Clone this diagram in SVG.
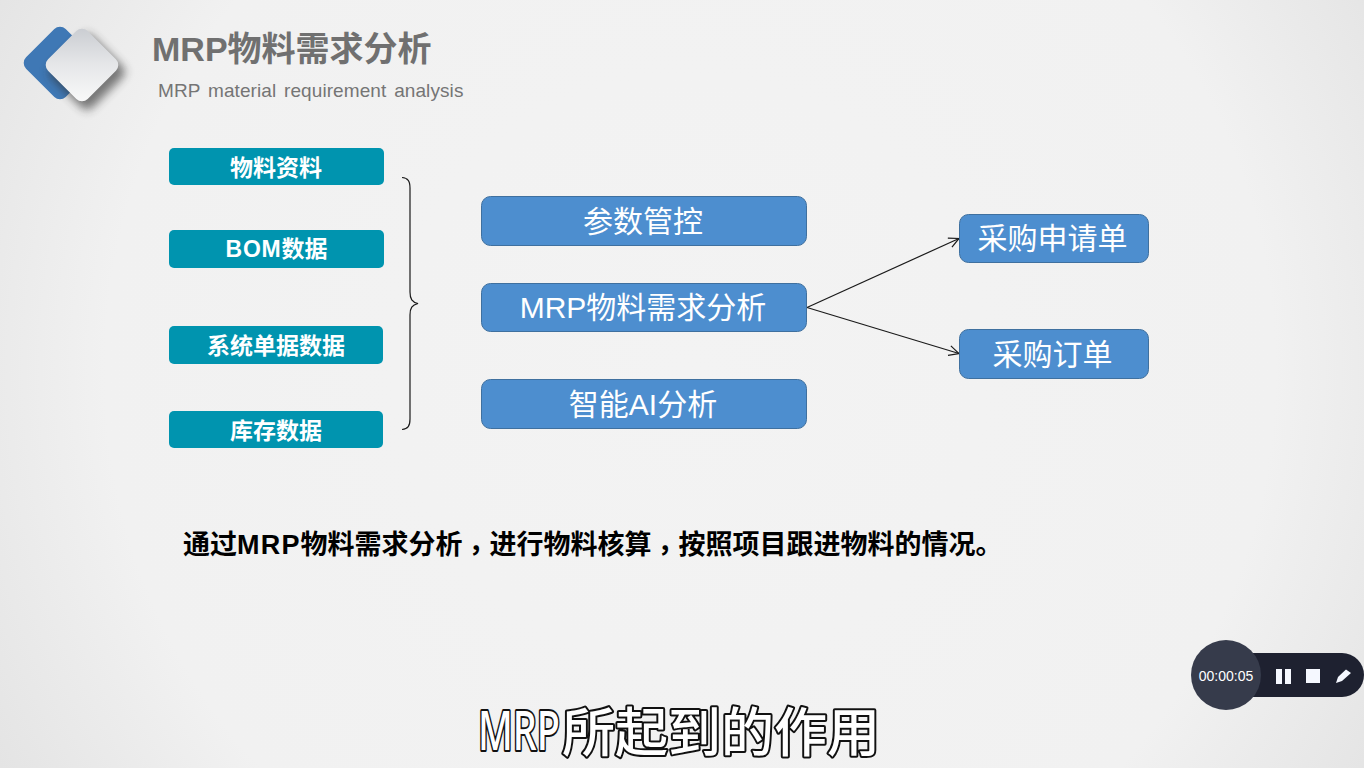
<svg xmlns="http://www.w3.org/2000/svg" width="1364" height="768" viewBox="0 0 1364 768">
<defs>
<radialGradient id="bg" gradientUnits="userSpaceOnUse" cx="690" cy="370" r="860">
<stop offset="0" stop-color="#f3f3f3"/><stop offset="0.68" stop-color="#f1f1f1"/><stop offset="1" stop-color="#e0e0e0"/>
</radialGradient>
<linearGradient id="silver" x1="0" y1="0" x2="1" y2="1">
<stop offset="0" stop-color="#c8cbd0"/><stop offset="0.5" stop-color="#e6e7e9"/><stop offset="1" stop-color="#fafafa"/>
</linearGradient>
<filter id="blur" x="-40%" y="-40%" width="180%" height="180%"><feGaussianBlur stdDeviation="5"/></filter>
<marker id="arrow" viewBox="0 0 12 12" refX="11" refY="6" markerWidth="12" markerHeight="12" markerUnits="userSpaceOnUse" orient="auto">
<path d="M1 1L11 6L1 11" fill="none" stroke="#1a1a1a" stroke-width="1.200"/>
</marker>
<style>
.teal{fill:#0094af}
.blue{fill:#4d8ecf;stroke:#3f709f;stroke-width:1}
.tt{fill:#fff;font-family:"Liberation Sans","Noto Sans CJK SC",sans-serif;font-weight:700;font-size:23px;text-anchor:middle}
.bt{fill:#fff;font-family:"Liberation Sans","Noto Sans CJK SC",sans-serif;font-size:30px;text-anchor:middle}
.cap{fill:#fff;stroke:#111;stroke-width:4;paint-order:stroke;stroke-linejoin:round;font-weight:500}
.conn{fill:none;stroke:#1a1a1a;stroke-width:1.200}
.comma{font-family:"Noto Sans CJK TC",sans-serif}
</style>
</defs>
<rect width="1364" height="768" fill="url(#bg)"/>
<g id="logo">
<rect x="32" y="35" width="56" height="56" rx="8" fill="#3f78b5" transform="rotate(45 60 63)"/>
<rect x="58" y="43" width="58" height="58" rx="8" fill="#2d2d2d" opacity="0.62" filter="url(#blur)" transform="rotate(45 87 72)"/>
<rect x="54" y="37" width="56" height="56" rx="8" fill="url(#silver)" transform="rotate(45 82 65)"/>
</g>
<g id="title">
<text x="152" y="60.500" font-family="'Liberation Sans','Noto Sans CJK SC',sans-serif" font-weight="700" font-size="34" fill="#707070">MRP物料需求分析</text>
<text x="158" y="97" font-family="'Liberation Sans',sans-serif" font-size="19" letter-spacing="0.080" word-spacing="2.500" fill="#757575">MRP material requirement analysis</text>
</g>
<g id="connectors">
<path class="conn" d="M402 177.500C408 178 410 181 410 188V292C410 299 412 302 418 303.500C412 305 410 308 410 315V419C410 426 408 429 402 429.500"/>
<line class="conn" x1="807" y1="307.500" x2="959" y2="238.500" marker-end="url(#arrow)"/>
<line class="conn" x1="807" y1="307.500" x2="959" y2="353.500" marker-end="url(#arrow)"/>
</g>
<g id="n1"><rect class="teal" x="169" y="148" width="215" height="37" rx="5"/><text class="tt" x="276" y="175.500">物料资料</text></g>
<g id="n2"><rect class="teal" x="169" y="230" width="215" height="38" rx="5"/><text class="tt" x="276.500" y="257"><tspan letter-spacing="0.700">BOM</tspan>数据</text></g>
<g id="n3"><rect class="teal" x="169" y="326" width="214" height="38" rx="5"/><text class="tt" x="276" y="353.500">系统单据数据</text></g>
<g id="n4"><rect class="teal" x="169" y="411" width="214" height="37" rx="5"/><text class="tt" x="276" y="438.500">库存数据</text></g>
<g id="b1"><rect class="blue" x="481.500" y="196.500" width="325" height="49" rx="9"/><text class="bt" x="643" y="232">参数管控</text></g>
<g id="b2"><rect class="blue" x="481.500" y="283.500" width="325" height="48" rx="9"/><text class="bt" x="643" y="318">MRP物料需求分析</text></g>
<g id="b3"><rect class="blue" x="481.500" y="379.500" width="325" height="49" rx="9"/><text class="bt" x="643" y="415">智能AI分析</text></g>
<g id="b4"><rect class="blue" x="959.500" y="214.500" width="189" height="48" rx="9"/><text class="bt" x="1052.500" y="249">采购申请单</text></g>
<g id="b5"><rect class="blue" x="959.500" y="329.500" width="189" height="49" rx="9"/><text class="bt" x="1052.500" y="365">采购订单</text></g>
<g id="summary"><text x="183" y="553.500" font-family="'Liberation Sans','Noto Sans CJK SC',sans-serif" font-weight="700" font-size="27" fill="#000">通过<tspan letter-spacing="1.200">MRP</tspan>物料需求分析<tspan class="comma" dy="6">，</tspan><tspan dy="-6">进行物料核算</tspan><tspan class="comma" dy="6">，</tspan><tspan dy="-6">按照项目跟进物料的情况。</tspan></text></g>
<g id="recorder">
<rect x="1230" y="653" width="134" height="44" rx="22" fill="#1e2130"/>
<circle cx="1226" cy="675" r="35" fill="#363b4b"/>
<text x="1226" y="681" font-family="'Liberation Sans',sans-serif" font-size="14" fill="#fff" text-anchor="middle">00:00:05</text>
<rect x="1276" y="669" width="6" height="15" fill="#f5f8ff"/><rect x="1285" y="669" width="6" height="15" fill="#f5f8ff"/>
<rect x="1306" y="669" width="14" height="14" fill="#f5f8ff"/>
<path d="M1336 683L1338 677L1346 669.500L1351 673L1342 681Z" fill="#f5f8ff"/>
</g>
<g id="caption">
<text class="cap" transform="translate(478 750) scale(0.69 1)" font-family="'Noto Sans',sans-serif" font-size="55">MRP</text>
<text class="cap" x="562" y="752" font-family="'Noto Sans CJK SC',sans-serif" font-size="53">所起到的作用</text>
</g>
</svg>
